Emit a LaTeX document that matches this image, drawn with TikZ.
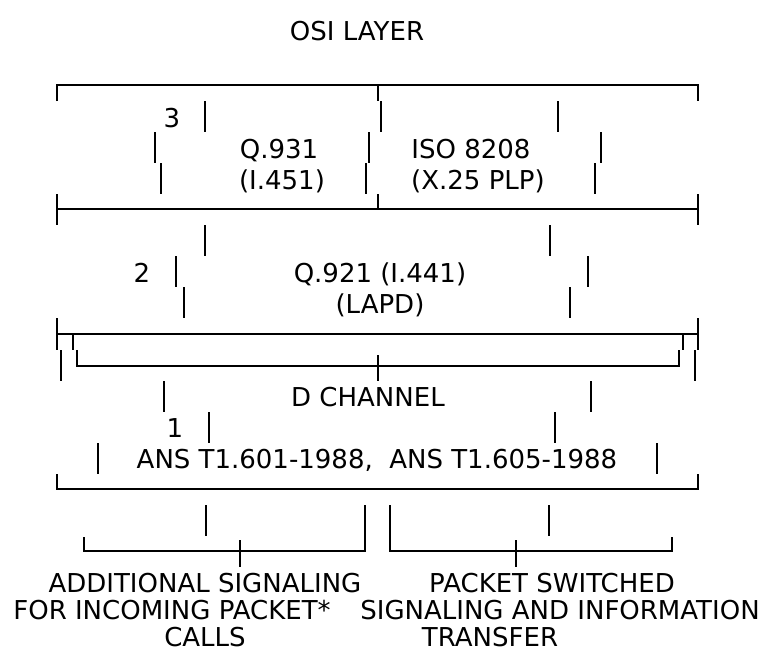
\documentclass[tikz,border=0pt]{standalone}
\usepackage{fontspec}
\setmainfont{DejaVu Sans}
\begin{document}
\begin{tikzpicture}[x=1pt,y=-1pt,line width=1.5pt,
  lbl/.style={font=\fontsize{26pt}{31pt}\selectfont,inner sep=0pt,anchor=base}]
  \useasboundingbox (0,0) rectangle (772,654);
  \node[lbl] (osi) at (357,40) {OSI LAYER};
  % layer 3
  \draw (57,101) -- (57,85) -- (698,85) -- (698,101);
  \draw (378,85) -- (378,101);
  \node[lbl] (n3) at (172,127) {3};
  \foreach \x in {205,381,558} \draw (\x,101) -- (\x,132);
  \foreach \x in {155,369,601} \draw (\x,132) -- (\x,163);
  \foreach \x in {161,366,595} \draw (\x,163) -- (\x,194);
  \node[lbl] (q931) at (279,158) {Q.931};
  \node[lbl] (iso) at (471,158) {ISO 8208};
  \node[lbl] (i451) at (282,189) {(I.451)};
  \node[lbl] (x25) at (478,189) {(X.25 PLP)};
  % layer 2
  \draw (57,194) -- (57,225) (698,194) -- (698,225) (57,209) -- (698,209);
  \draw (378,194) -- (378,209);
  \foreach \x in {205,550} \draw (\x,225) -- (\x,256);
  \foreach \x in {176,588} \draw (\x,256) -- (\x,287);
  \foreach \x in {184,570} \draw (\x,287) -- (\x,318);
  \node[lbl] (n2) at (142,282) {2};
  \node[lbl] (q921) at (380,282) {Q.921 (I.441)};
  \node[lbl] (lapd) at (380,313) {(LAPD)};
  % D channel
  \draw (57,318) -- (57,350) (698,318) -- (698,350) (57,334) -- (698,334);
  \draw (73,335) -- (73,350) (683,335) -- (683,350);
  \draw (61,350) -- (61,381) (695,350) -- (695,381);
  \draw (77,350) -- (77,366) -- (679,366) -- (679,350);
  \draw (378,355) -- (378,381);
  \foreach \x in {164,591} \draw (\x,381) -- (\x,412);
  \node[lbl] (dch) at (368,406) {D CHANNEL};
  % layer 1
  \node[lbl] (n1) at (175,437) {1};
  \foreach \x in {209,555} \draw (\x,412) -- (\x,443);
  \foreach \x in {98,657} \draw (\x,443) -- (\x,474);
  \node[lbl] (ans) at (377,468) {ANS T1.601-1988,\ \ ANS T1.605-1988};
  \draw (57,474) -- (57,489) -- (698,489) -- (698,474);
  % split
  \foreach \x in {206,549} \draw (\x,505) -- (\x,536);
  \draw (84,537) -- (84,551) -- (365,551) -- (365,505);
  \draw (390,505) -- (390,551) -- (672,551) -- (672,537);
  \draw (240,540) -- (240,567) (516,540) -- (516,567);
  \node[lbl] (add1) at (205,592) {ADDITIONAL SIGNALING};
  \node[lbl] (add2) at (172,619) {FOR INCOMING PACKET*};
  \node[lbl] (add3) at (205,646) {CALLS};
  \node[lbl] (pkt1) at (552,592) {PACKET SWITCHED};
  \node[lbl] (pkt2) at (560,619) {SIGNALING AND INFORMATION};
  \node[lbl] (pkt3) at (490,646) {TRANSFER};
\end{tikzpicture}
\end{document}
